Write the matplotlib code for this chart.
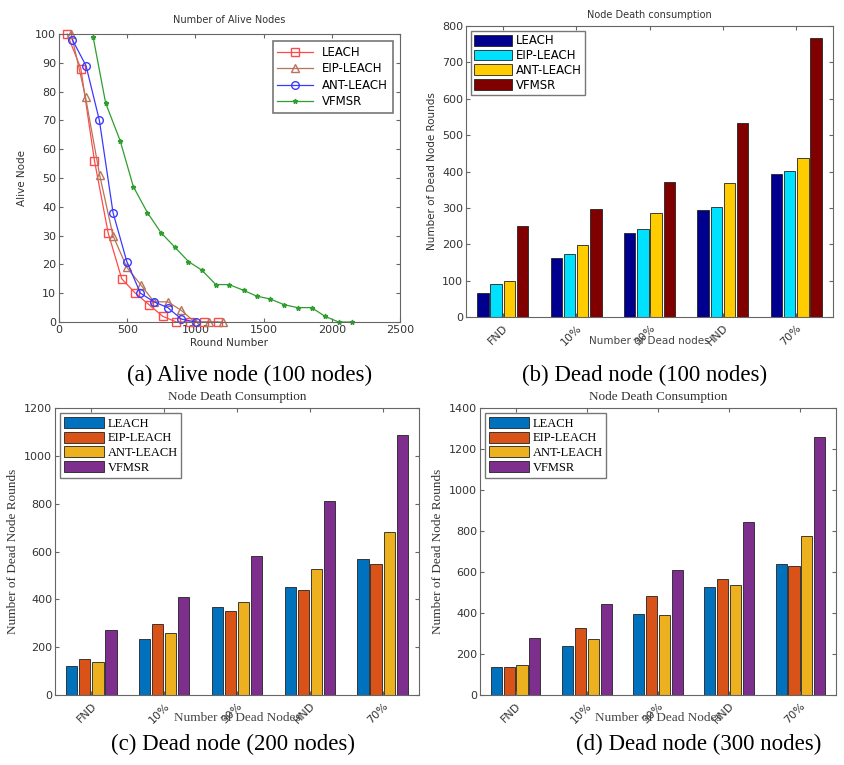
import matplotlib
matplotlib.use('Agg')
import matplotlib.pyplot as plt
import numpy as np

W, H = 845, 765

# ---- panel (a): alive nodes per round
leach_x = [60, 160, 260, 360, 460, 560, 660, 760, 860, 960, 1065, 1165]
leach_y = [100, 88, 56, 31, 15, 10, 6, 2, 0, 0, 0, 0]
eip_x = [90, 195, 298, 396, 497, 598, 697, 797, 898, 995, 1098, 1199]
eip_y = [100, 78, 51, 30, 19, 13, 7, 7, 4, 0, 0, 0]
ant_x = [98, 198, 296, 396, 497, 597, 697, 797, 898, 1003]
ant_y = [98, 89, 70, 38, 21, 10, 7, 5, 1, 0]
vfmsr_x = [250, 342, 448, 545, 648, 748, 849, 949, 1047, 1150, 1247, 1353,
           1448, 1548, 1651, 1749, 1852, 1949, 2050, 2150]
vfmsr_y = [99, 76, 63, 47, 38, 31, 26, 21, 18, 13, 13, 11, 9, 8, 6, 5, 5, 2, 0, 0]

# ---- bar panels
groups = ['FND', '10%', '30%', 'HND', '70%']
methods = ['LEACH', 'EIP-LEACH', 'ANT-LEACH', 'VFMSR']

b100 = {
    'LEACH': [67, 161, 232, 295, 393],
    'EIP-LEACH': [92, 173, 243, 303, 401],
    'ANT-LEACH': [98, 198, 287, 369, 438],
    'VFMSR': [250, 297, 371, 533, 767],
}
b200 = {
    'LEACH': [120, 234, 367, 451, 569],
    'EIP-LEACH': [152, 298, 352, 437, 547],
    'ANT-LEACH': [136, 259, 387, 526, 680],
    'VFMSR': [270, 408, 580, 811, 1088],
}
b300 = {
    'LEACH': [136, 240, 395, 525, 637],
    'EIP-LEACH': [136, 328, 484, 565, 627],
    'ANT-LEACH': [146, 271, 388, 539, 775],
    'VFMSR': [279, 445, 609, 846, 1259],
}

jet_colors = ['#00008f', '#00e0ff', '#ffcc00', '#800000']
matlab_colors = ['#0072BD', '#D95319', '#EDB120', '#7E2F8E']

fig = plt.figure(figsize=(W / 100, H / 100), dpi=100)


def px_axes(l, t, r, b):
    return fig.add_axes([l / W, 1 - b / H, (r - l) / W, (b - t) / H])


def style_box(ax, color, labcolor):
    for s in ax.spines.values():
        s.set_color(color)
        s.set_linewidth(0.8)
    ax.tick_params(direction='in', top=True, right=True, length=3,
                   color=color, labelcolor=labcolor, pad=2)


# (a)
ax = px_axes(59, 34, 400, 322)
ax.plot(leach_x, leach_y, '-s', color='#ff4a4a', mfc='none', ms=5.5, lw=0.9,
        label='LEACH', clip_on=False)
ax.plot(eip_x, eip_y, '-^', color='#b8745a', mfc='none', ms=5.5, lw=0.9,
        label='EIP-LEACH', clip_on=False)
ax.plot(ant_x, ant_y, '-o', color='#3a3aff', mfc='none', ms=5.5, lw=0.9,
        label='ANT-LEACH', clip_on=False)
ax.plot(vfmsr_x, vfmsr_y, '-*', color='#2e9e2e', ms=3.5, lw=0.9,
        label='VFMSR', clip_on=False)
ax.set_xlim(0, 2500)
ax.set_ylim(0, 100)
ax.set_xticks(range(0, 2501, 500))
ax.set_yticks(range(0, 101, 10))
style_box(ax, '#666666', '#333333')
ax.tick_params(labelsize=8)
ax.set_title('Number of Alive Nodes', fontsize=7, color='#333333', pad=8)
ax.set_xlabel('Round Number', fontsize=7.5, color='#333333', labelpad=2)
ax.set_ylabel('Alive Node', fontsize=7.5, color='#333333', labelpad=6)
leg = ax.legend(loc='upper right', fontsize=8.5, frameon=True, fancybox=False,
                edgecolor='#555555', handlelength=3, borderaxespad=0.6,
                labelspacing=0.3)
leg.get_frame().set_linewidth(1.2)


def bar_panel(rect, data, colors, ymax, ystep, title, xlabel, serif, label_y):
    ax = px_axes(*rect)
    x = np.arange(1, len(groups) + 1)
    for i, m in enumerate(methods):
        ax.bar(x + (i - 1.5) * 0.18, data[m], width=0.155, color=colors[i],
               edgecolor='#222222', linewidth=0.6, label=m)
    ax.set_xlim(0.5, 5.5)
    ax.set_ylim(0, ymax)
    ax.set_yticks(range(0, ymax + 1, ystep))
    ax.set_xticks(x)
    ax.set_xticklabels(groups, rotation=45, ha='right', rotation_mode='anchor')
    fam = 'Liberation Serif' if serif else 'DejaVu Sans'
    tsize = 9.5 if serif else 7
    style_box(ax, '#666666', '#333333')
    ax.tick_params(labelsize=8)
    ax.tick_params(axis='x', pad=4)
    ax.set_title(title, fontsize=tsize, family=fam, color='#333333', pad=6)
    ax.set_xlabel(xlabel, fontsize=tsize if serif else 7.5, family=fam, color='#444444')
    ax.xaxis.set_label_coords(0.5, label_y)
    ax.set_ylabel('Number of Dead Node Rounds', fontsize=9.5 if serif else 7.5,
                  family=fam, color='#333333', labelpad=4)
    leg = ax.legend(loc='upper left', prop={'family': fam, 'size': 9 if serif else 8.5},
                    frameon=True, fancybox=False, edgecolor='#555555',
                    handlelength=3.2, handleheight=1.0, borderaxespad=0.4,
                    labelspacing=0.15, handletextpad=0.3, borderpad=0.3)
    leg.get_frame().set_linewidth(1.0)
    return ax


bar_panel((466, 26, 833, 317), b100, jet_colors, 800, 100,
          'Node Death consumption', 'Number of Dead nodes', False, -0.065)
bar_panel((55, 408, 419, 695), b200, matlab_colors, 1200, 200,
          'Node Death Consumption', 'Number of Dead Nodes', True, -0.06)
bar_panel((480, 408, 836, 695), b300, matlab_colors, 1400, 200,
          'Node Death Consumption', 'Number of Dead Nodes', True, -0.06)

captions = [('(a) Alive node (100 nodes)', 250, 375),
            ('(b) Dead node (100 nodes)', 645, 375),
            ('(c) Dead node (200 nodes)', 233, 744),
            ('(d) Dead node (300 nodes)', 699, 744)]
for txt, cx, cy in captions:
    fig.text(cx / W, 1 - cy / H, txt, ha='center', va='center',
             family='Liberation Serif', fontsize=16.5, color='black')

fig.savefig('out.png', dpi=100)
